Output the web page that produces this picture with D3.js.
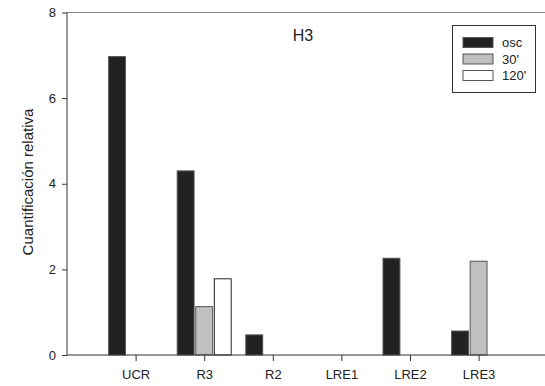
<!DOCTYPE html>
<html lang="en">
<head>
    <meta charset="UTF-8">
    <title>H3</title>
    <script src="https://d3js.org/d3.v7.min.js"></script>
    <style>
        body { margin: 0; background: #fff; }
        text { font-family: "Liberation Sans", Arial, sans-serif; }
    </style>
</head>
<body>

<script>

    var categories = ["UCR", "R3", "R2", "LRE1", "LRE2", "LRE3"];
    var series = ["osc", "30'", "120'"];
    var osc = [6.97, 4.30, 0.47, 0, 2.26, 0.56];
    var min30 = [0, 1.13, 0, 0, 0, 2.19];
    var min120 = [0, 1.78, 0, 0, 0, 0];
    var yTicks = [0, 2, 4, 6, 8];
    var colors = ["#222222", "#c0c0c0", "#ffffff"];

    var xSize = 545;
    var ySize = 386;

    var svg = d3.select("body")
        .append("svg")
        .attr("width", xSize)
        .attr("height", ySize);

    var x0 = 67, y0 = 355, yTop = 12.5;
    // categories sit at 1..6 on a 0..7 axis that runs off the right edge
    var xScale = d3.scaleLinear().domain([0, 7]).range([x0, x0 + 7 * 68.6]);
    var yScale = d3.scaleLinear().domain([0, 8]).range([y0, yTop]);
    var inner = d3.scaleBand().domain(series).range([-27, 27]).paddingInner(0.09);

    var rows = [];
    var values = [osc, min30, min120];
    categories.forEach(function (c, i) {
        series.forEach(function (s, j) {
            if (values[j][i] > 0) rows.push({cat: i + 1, s: s, j: j, v: values[j][i]});
        });
    });

    // top frame line
    svg.append("line")
        .attr("x1", x0).attr("x2", xSize)
        .attr("y1", yTop).attr("y2", yTop)
        .attr("stroke", "#888").attr("stroke-width", 1);

    svg.selectAll("rect.bar").data(rows).enter().append("rect")
        .attr("class", "bar")
        .attr("x", function (d) { return xScale(d.cat) + inner(d.s); })
        .attr("width", inner.bandwidth())
        .attr("y", function (d) { return yScale(d.v); })
        .attr("height", function (d) { return y0 - yScale(d.v); })
        .attr("fill", function (d) { return colors[d.j]; })
        .attr("stroke", function (d) { return d.j == 2 ? "#222" : "#555"; })
        .attr("stroke-width", 1);

    var yAxis = d3.axisLeft(yScale).tickValues(yTicks).tickSize(5).tickPadding(6).tickFormat(d3.format("d"));
    var gy = svg.append("g").attr("transform", "translate(" + x0 + ",0)").call(yAxis);
    gy.select(".domain").attr("d", "M0," + yTop + "V" + y0).attr("stroke", "#333");

    var xAxis = d3.axisBottom(xScale).tickValues([1, 2, 3, 4, 5, 6]).tickSize(6).tickPadding(9)
        .tickFormat(function (d) { return categories[d - 1]; });
    var gx = svg.append("g").attr("transform", "translate(0," + y0 + ")").call(xAxis);
    gx.select(".domain").attr("d", "M" + x0 + ",0H" + xSize).attr("stroke", "#333");

    svg.selectAll(".tick line").attr("stroke", "#333");
    svg.selectAll(".tick text").attr("font-size", "13px").attr("fill", "#222");

    svg.append("text")
        .attr("transform", "translate(33,182) rotate(-90)")
        .attr("text-anchor", "middle")
        .attr("font-size", "15px").attr("fill", "#222")
        .text("Cuantificación relativa");

    svg.append("text")
        .attr("x", 303).attr("y", 41)
        .attr("text-anchor", "middle")
        .attr("font-size", "16px").attr("fill", "#222")
        .text("H3");

    // legend
    var lg = svg.append("g");
    lg.append("rect").attr("x", 452.5).attr("y", 25.5).attr("width", 83).attr("height", 67)
        .attr("fill", "#fff").attr("stroke", "#333");
    series.forEach(function (s, j) {
        var ly = 37.5 + j * 16.5;
        lg.append("rect").attr("x", 463).attr("y", ly).attr("width", 30).attr("height", 10)
            .attr("fill", colors[j]).attr("stroke", "#555");
        lg.append("text").attr("x", 502).attr("y", ly + 9.5)
            .attr("font-size", "13px").attr("fill", "#222").text(s);
    });

</script>

</body>
</html>
